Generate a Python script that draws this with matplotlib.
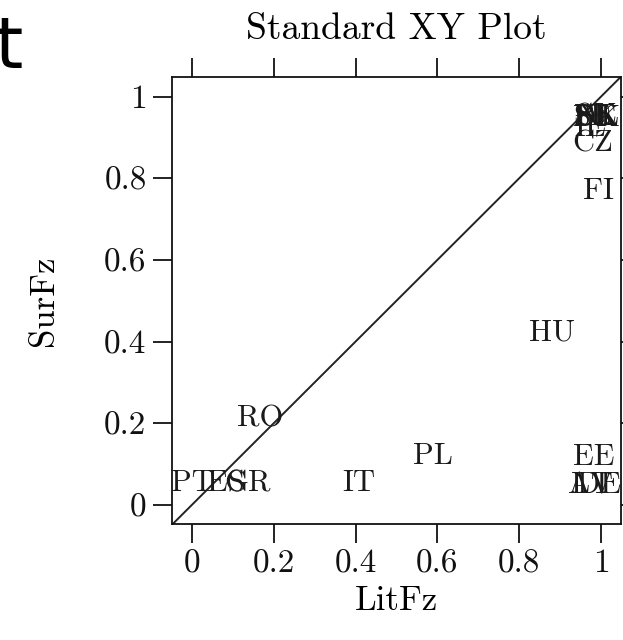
import matplotlib
matplotlib.use("Agg")
import matplotlib.pyplot as plt

# country labels with (LitFz, SurFz)
countries = ["PT", "ES", "GR", "RO", "IT", "PL", "HU", "FI", "CZ", "IE",
             "BE", "SK", "DK", "SE", "NL", "EE", "AT", "LV", "DE"]
lit_fz = [0.0, 0.083, 0.135, 0.166, 0.408, 0.589, 0.88, 0.993, 0.98, 0.973,
          0.985, 0.99, 0.988, 0.978, 0.992, 0.983, 0.975, 0.978, 0.995]
sur_fz = [0.052, 0.052, 0.052, 0.21, 0.052, 0.118, 0.422, 0.768, 0.885, 0.922,
          0.949, 0.951, 0.947, 0.948, 0.95, 0.116, 0.049, 0.049, 0.049]

ticks = [0, 0.2, 0.4, 0.6, 0.8, 1]
tick_labels = ["0", "0.2", "0.4", "0.6", "0.8", "1"]

plt.rcParams["font.family"] = "cmr10"
plt.rcParams["axes.formatter.use_mathtext"] = True

fig = plt.figure(figsize=(6.23, 6.4), dpi=100)
ax = fig.add_axes([0.2753, 0.18125, 0.7215, 0.69895])

ax.set_xlim(-0.05, 1.049)
ax.set_ylim(-0.047, 1.049)

# reference line y = x
ax.axline((0, 0), (1, 1), color="#222222", lw=1.4)

for name, x, y in zip(countries, lit_fz, sur_fz):
    ax.text(x, y, name, ha="center", va="center", fontsize=22, color="#1a1a1a")

ax.set_xticks(ticks)
ax.set_xticklabels(tick_labels)
ax.set_yticks(ticks)
ax.set_yticklabels(tick_labels)
ax.tick_params(axis="both", direction="out", length=14, width=1.3, labelsize=24,
               pad=4, top=True, right=True, colors="#111111")
for s in ax.spines.values():
    s.set_linewidth(1.3)
    s.set_color("#111111")

ax.set_xlabel("LitFz", fontsize=25, labelpad=5)
ax.set_ylabel("SurFz", fontsize=25, labelpad=32)
ax.set_title("Standard XY Plot", fontsize=27, pad=27)

# stray glyph in the top-left corner
fig.text(-0.008, 0.978, "t", family="DejaVu Sans", fontsize=52, ha="left", va="top")

fig.savefig("out.png", dpi=100)
